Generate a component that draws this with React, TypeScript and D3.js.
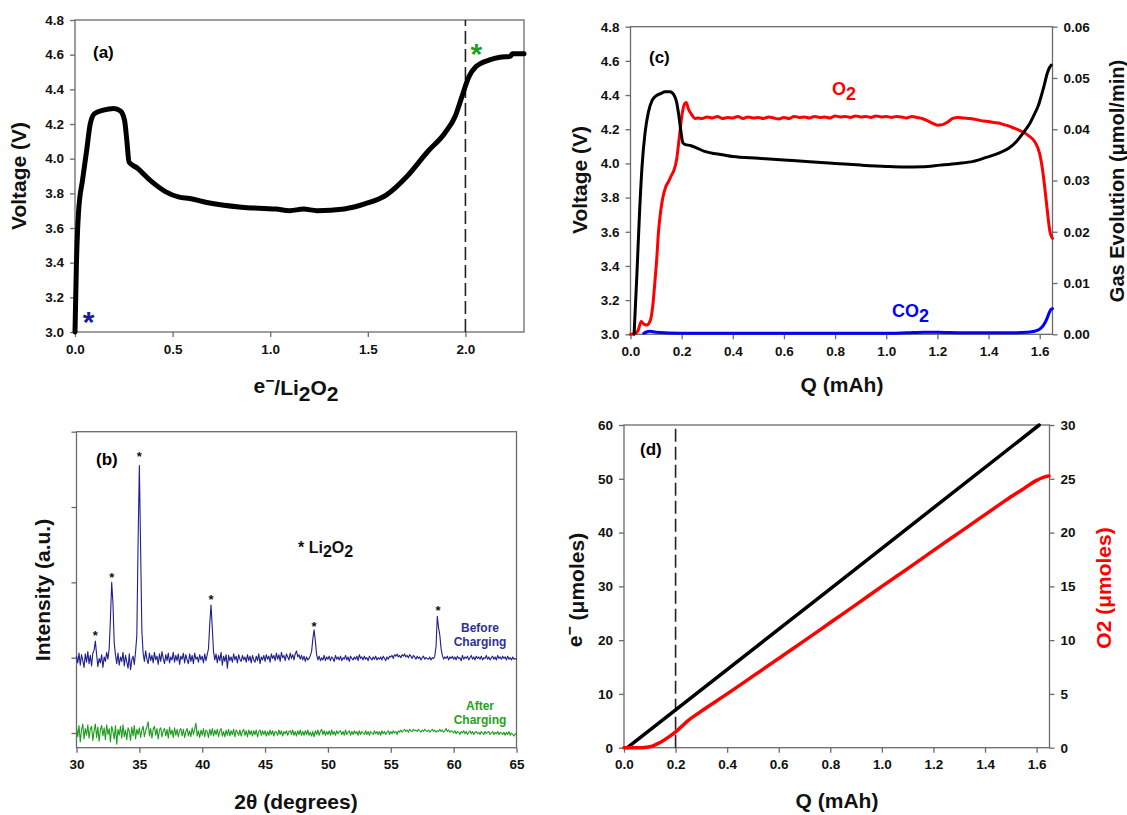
import { useRef, useEffect } from 'react'
import * as d3 from 'd3'

// (a) charging voltage vs e-/Li2O2
const aRatio = [0, 0.007, 0.018, 0.039, 0.06, 0.078, 0.1, 0.145, 0.198, 0.233, 0.254, 0.265, 0.277, 0.32, 0.39, 0.463, 0.534, 0.587, 0.675, 0.852, 1.03, 1.1, 1.17, 1.24, 1.38, 1.488, 1.594, 1.7, 1.806, 1.894, 1.947, 1.982, 2.018, 2.053, 2.124, 2.177, 2.23, 2.24, 2.3]
const aVolt = [3.0, 3.38, 3.69, 3.88, 4.05, 4.2, 4.26, 4.28, 4.29, 4.275, 4.22, 4.11, 3.98, 3.945, 3.87, 3.81, 3.778, 3.77, 3.747, 3.72, 3.709, 3.70, 3.709, 3.70, 3.71, 3.74, 3.79, 3.897, 4.04, 4.147, 4.243, 4.358, 4.473, 4.53, 4.57, 4.585, 4.59, 4.605, 4.605]
const aTicksX = [0, 0.5, 1.0, 1.5, 2.0]
const aTicksY = [3.0, 3.2, 3.4, 3.6, 3.8, 4.0, 4.2, 4.4, 4.6, 4.8]
const aDashAt = 2.0

// (b) XRD, 2theta from 30 to 65 in 0.1 steps
const xrdStart = 30
const xrdStep = 0.1
const before = [
  1.02, 0.93, 1.06, 0.90, 1.04, 0.96, 0.87, 1.05, 0.94, 1.08,
  0.92, 1.03, 0.89, 1.06, 1.10, 1.22, 1.04, 0.88, 0.99, 0.93,
  1.04, 0.87, 1.01, 0.95, 1.07, 0.98, 1.12, 1.52, 2.00, 1.72,
  1.20, 1.04, 0.92, 1.06, 0.90, 1.01, 0.95, 1.07, 0.89, 1.03,
  0.94, 0.86, 1.05, 0.84, 0.97, 1.02, 0.91, 1.08, 1.30, 2.55,
  3.55, 2.45, 1.35, 1.06, 0.95, 1.09, 0.98, 0.92, 1.06, 0.96,
  1.03, 0.93, 1.07, 0.97, 1.02, 0.91, 1.05, 0.95, 1.08, 0.99,
  0.92, 1.04, 0.96, 1.06, 0.93, 1.01, 0.97, 1.07, 0.94, 1.03,
  0.96, 1.05, 0.91, 1.02, 0.98, 1.06, 0.93, 1.04, 0.97, 0.92,
  1.05, 0.95, 1.03, 0.92, 1.06, 0.98, 1.01, 0.94, 1.04, 0.97,
  1.02, 0.93, 1.05, 0.96, 1.04, 1.12, 1.45, 1.70, 1.40, 1.08,
  0.97, 1.05, 0.93, 1.03, 0.96, 1.07, 0.90, 1.02, 0.95, 1.04,
  0.86, 1.03, 0.96, 1.01, 0.94, 1.05, 0.97, 1.02, 0.93, 1.04,
  0.98, 0.95, 1.03, 0.97, 1.01, 0.94, 1.04, 0.96, 1.02, 0.93,
  1.03, 0.97, 0.94, 1.02, 0.96, 1.05, 0.92, 1.01, 0.97, 1.03,
  0.95, 1.04, 0.98, 1.02, 0.94, 1.05, 0.99, 1.03, 0.96, 1.06,
  0.98, 1.04, 0.95, 1.07, 1.00, 1.03, 0.96, 1.05, 1.01, 0.97,
  1.06, 0.99, 1.04, 0.97, 1.05, 1.09, 1.01, 1.04, 0.98, 1.03,
  0.97, 1.02, 0.95, 1.01, 0.97, 0.99, 1.03, 1.08, 1.25, 1.37,
  1.22, 1.04, 0.97, 1.02, 0.96, 1.00, 0.97, 1.03, 0.96, 1.01,
  0.98, 1.02, 0.96, 1.01, 0.99, 0.95, 1.03, 0.98, 1.01, 0.97,
  1.02, 0.96, 1.00, 0.98, 1.03, 0.97, 1.01, 0.95, 1.02, 0.99,
  0.97, 1.01, 0.98, 1.02, 0.96, 1.04, 0.99, 1.01, 0.97, 1.02,
  0.98, 1.00, 0.96, 1.02, 0.99, 0.97, 1.01, 0.98, 1.02, 0.97,
  1.00, 0.98, 1.01, 0.97, 1.02, 0.99, 0.96, 1.01, 0.98, 1.02,
  1.01, 1.03, 0.99, 1.04, 1.02, 1.05, 1.01, 1.03, 1.00, 1.04,
  1.02, 1.05, 1.01, 1.03, 1.00, 1.04, 1.02, 0.99, 1.03, 1.01,
  0.98, 1.02, 0.99, 1.01, 0.97, 1.00, 1.02, 0.98, 1.00, 0.99,
  0.98, 1.01, 0.97, 1.00, 0.99, 1.02, 1.15, 1.55, 1.40, 1.30,
  1.12, 1.03, 0.98, 1.01, 0.99, 1.02, 0.97, 1.01, 0.99, 1.02,
  0.98, 1.01, 0.97, 1.02, 0.99, 1.00, 0.96, 1.03, 0.98, 1.01,
  0.99, 1.02, 0.97, 1.00, 1.03, 0.98, 1.01, 0.97, 1.02, 0.99,
  1.01, 0.98, 1.02, 0.97, 1.00, 0.99, 1.03, 0.98, 1.01, 0.97,
  1.00, 1.02, 0.98, 1.01, 0.97, 1.03, 0.99, 1.01, 0.98, 1.02,
  0.99, 1.01, 0.97, 1.02, 0.98, 1.00, 0.97, 1.01, 0.98, 0.99,
  0.98,
]
const after = [
  0.08, -0.05, 0.10, -0.12, 0.04, 0.12, -0.08, 0.06, -0.03, 0.11,
  -0.07, 0.05, 0.09, -0.10, 0.03, 0.12, -0.06, 0.08, -0.11, 0.04,
  0.10, -0.04, 0.07, -0.09, 0.11, -0.02, 0.06, -0.12, 0.09, 0.02,
  -0.08, 0.10, -0.15, 0.05, -0.03, 0.09, -0.07, 0.11, -0.05, 0.04,
  -0.09, 0.07, 0.02, -0.10, 0.08, -0.04, 0.10, -0.08, 0.05, -0.02,
  0.07, -0.06, 0.04, 0.09, -0.05, 0.03, 0.08, 0.15, -0.04, 0.06,
  -0.07, 0.05, 0.09, -0.03, 0.06, -0.08, 0.04, 0.07, -0.05, 0.03,
  0.06, -0.04, 0.05, -0.07, 0.08, -0.02, 0.04, -0.06, 0.07, -0.03,
  0.05, -0.05, 0.03, 0.06, -0.04, 0.05, -0.06, 0.02, 0.06, -0.04,
  0.03, -0.05, 0.07, -0.02, 0.05, 0.13, -0.04, 0.03, -0.06, 0.04,
  -0.03, 0.06, -0.05, 0.04, 0.02, -0.06, 0.05, -0.03, 0.06, -0.04,
  0.04, -0.02, 0.05, -0.05, 0.03, 0.06, -0.04, 0.02, -0.05, 0.04,
  -0.03, 0.05, -0.04, 0.03, -0.02, 0.05, -0.05, 0.04, 0.01, -0.03,
  0.04, -0.04, 0.02, 0.05, -0.03, 0.03, -0.05, 0.04, -0.02, 0.03,
  -0.04, 0.03, -0.02, 0.04, -0.05, 0.02, 0.04, -0.03, 0.03, -0.02,
  0.03, -0.04, 0.02, -0.03, 0.04, -0.02, 0.03, -0.04, 0.02, 0.01,
  -0.03, 0.04, -0.02, 0.03, -0.04, 0.02, -0.01, 0.03, -0.03, 0.02,
  0.03, -0.02, 0.04, -0.03, 0.02, -0.04, 0.03, -0.02, 0.04, -0.03,
  0.02, -0.03, 0.03, -0.02, 0.04, -0.03, 0.01, -0.04, 0.02, -0.05,
  0.03, -0.02, 0.04, -0.03, 0.02, 0.05, -0.02, 0.03, -0.03, 0.02,
  -0.02, 0.03, -0.03, 0.04, -0.02, 0.02, -0.03, 0.03, -0.01, 0.02,
  0.03, -0.02, 0.02, -0.03, 0.04, -0.02, 0.01, 0.03, -0.03, 0.02,
  -0.02, 0.03, -0.01, 0.02, -0.03, 0.03, -0.02, 0.02, 0.00, -0.02,
  0.03, -0.02, 0.02, -0.03, 0.02, 0.00, -0.02, 0.03, -0.01, 0.02,
  -0.02, 0.02, -0.03, 0.03, -0.01, 0.02, -0.02, 0.01, 0.03, -0.02,
  0.02, -0.01, 0.03, 0.00, 0.02, -0.02, 0.03, 0.01, 0.04, 0.01,
  0.03, 0.05, 0.02, 0.04, 0.01, 0.05, 0.03, 0.02, 0.05, 0.03,
  0.04, 0.02, 0.05, 0.03, 0.01, 0.04, 0.02, 0.05, 0.03, 0.02,
  0.04, 0.01, 0.03, 0.05, 0.02, 0.04, 0.01, 0.03, 0.02, 0.05,
  0.02, 0.04, 0.01, 0.03, 0.06, 0.02, 0.04, 0.01, 0.03, 0.02,
  0.00, 0.03, -0.01, 0.02, 0.01, -0.02, 0.02, 0.00, 0.03, -0.01,
  0.02, -0.02, 0.01, 0.03, -0.01, 0.02, -0.02, 0.01, 0.02, -0.01,
  0.01, -0.02, 0.02, 0.00, -0.02, 0.02, -0.01, 0.01, 0.02, -0.02,
  0.00, 0.02, -0.02, 0.01, -0.01, 0.02, -0.02, 0.01, 0.00, -0.02,
  0.01, -0.03, 0.01, -0.02, 0.02, -0.03, 0.00, -0.02, -0.04, -0.01,
  -0.02,
]
const peakStarX = [31.5, 32.8, 35.0, 40.7, 48.9, 58.75]
const peakStarY = [1.33, 2.1, 3.7, 1.8, 1.45, 1.66]
const bTicksX = [30, 35, 40, 45, 50, 55, 60, 65]
const bTicksY = [0, 1, 2, 3, 4]

// (c) voltage and gas evolution vs Q
const cVQ = [0.014, 0.025, 0.035, 0.045, 0.057, 0.07, 0.085, 0.1, 0.12, 0.135, 0.155, 0.17, 0.18, 0.188, 0.196, 0.205, 0.215, 0.234, 0.26, 0.29, 0.34, 0.40, 0.5, 0.6, 0.7, 0.8, 0.9, 1.0, 1.07, 1.14, 1.21, 1.28, 1.34, 1.39, 1.44, 1.48, 1.51, 1.536, 1.56, 1.58, 1.595, 1.607, 1.618, 1.628, 1.638, 1.645]
const cVolt = [3.0, 3.35, 3.7, 3.98, 4.18, 4.3, 4.37, 4.395, 4.41, 4.42, 4.42, 4.40, 4.36, 4.29, 4.2, 4.12, 4.11, 4.105, 4.09, 4.07, 4.055, 4.04, 4.03, 4.02, 4.01, 4.0, 3.99, 3.982, 3.979, 3.981, 3.99, 4.0, 4.012, 4.035, 4.06, 4.09, 4.13, 4.18, 4.23, 4.29, 4.34, 4.4, 4.46, 4.52, 4.56, 4.575]
const o2Q = [0, 0.02, 0.03, 0.042, 0.052, 0.064, 0.078, 0.088, 0.095, 0.103, 0.109, 0.118, 0.127, 0.138, 0.149, 0.16, 0.17, 0.18, 0.191, 0.202, 0.212, 0.218, 0.226, 0.24, 0.252, 0.262,
  0.28, 0.30, 0.32, 0.34, 0.36, 0.38, 0.40, 0.42, 0.44, 0.46, 0.48, 0.50, 0.52, 0.54, 0.56, 0.58, 0.60, 0.62, 0.64, 0.66, 0.68, 0.70, 0.72, 0.74, 0.76, 0.78, 0.80,
  0.82, 0.84, 0.86, 0.88, 0.90, 0.92, 0.94, 0.96, 0.98, 1.00, 1.02, 1.04, 1.06, 1.08, 1.10, 1.12, 1.14, 1.16, 1.18, 1.20, 1.22, 1.24, 1.26, 1.28, 1.30, 1.32,
  1.34, 1.36, 1.38, 1.40, 1.42, 1.44, 1.46, 1.48, 1.50, 1.52, 1.54, 1.56, 1.58, 1.60, 1.61, 1.62, 1.63, 1.64, 1.65]
const o2Rate = [0, 0.0002, 0.0008, 0.0025, 0.0020, 0.0018, 0.0028, 0.006, 0.010, 0.015, 0.0197, 0.024, 0.0268, 0.0288, 0.0298, 0.031, 0.032, 0.034, 0.0385, 0.043, 0.045, 0.0452, 0.044, 0.0428, 0.0421, 0.0422,
  0.0421, 0.0424, 0.0422, 0.0425, 0.0421, 0.0423, 0.0422, 0.0425, 0.0421, 0.0424, 0.0422, 0.0423, 0.0421, 0.0424, 0.0422, 0.0420, 0.0423, 0.0421, 0.0425, 0.0423, 0.0424, 0.0422, 0.0425, 0.0423, 0.0424, 0.0422, 0.0426,
  0.0424, 0.0425, 0.0423, 0.0426, 0.0424, 0.0425, 0.0423, 0.0426, 0.0424, 0.0425, 0.0423, 0.0425, 0.0424, 0.0422, 0.0425, 0.0423, 0.0421, 0.0417, 0.0412, 0.0408, 0.0409, 0.0414, 0.0421, 0.0423, 0.0422, 0.0421,
  0.0420, 0.0418, 0.0416, 0.0415, 0.0413, 0.0412, 0.0409, 0.0406, 0.0402, 0.0398, 0.0393, 0.0386, 0.0376, 0.0352, 0.0325, 0.0285, 0.0240, 0.0200, 0.0187]
const co2Q = [0.052, 0.06, 0.075, 0.1, 0.2, 0.4, 0.6, 0.8, 1.0, 1.08, 1.15, 1.2, 1.3, 1.4, 1.5, 1.55, 1.58, 1.6, 1.615, 1.628, 1.638, 1.645, 1.65]
const co2Rate = [0.0002, 0.0004, 0.0006, 0.0004, 0.0002, 0.0002, 0.0002, 0.0002, 0.0002, 0.0003, 0.0004, 0.0004, 0.0003, 0.0003, 0.0003, 0.0004, 0.0006, 0.001, 0.0018, 0.003, 0.0043, 0.0049, 0.0050]
const cTicksX = [0, 0.2, 0.4, 0.6, 0.8, 1.0, 1.2, 1.4, 1.6]
const cTicksY = [3.0, 3.2, 3.4, 3.6, 3.8, 4.0, 4.2, 4.4, 4.6, 4.8]
const cTicksY2 = [0, 0.01, 0.02, 0.03, 0.04, 0.05, 0.06]

// (d) cumulative e- and O2
const eQ = [0.013, 0.8, 1.61]
const eMol = [0, 29.55, 60]
const o2TotQ = [0, 0.05, 0.089, 0.11, 0.131, 0.15, 0.174, 0.199, 0.22, 0.245, 0.3, 0.4, 0.5, 0.6, 0.7, 0.81, 0.9, 1.0, 1.1, 1.195, 1.3, 1.39, 1.45, 1.505, 1.545, 1.575, 1.6, 1.617, 1.635, 1.648]
const o2Tot = [0, 0, 0.05, 0.15, 0.38, 0.62, 1.0, 1.45, 1.9, 2.45, 3.4, 5.0, 6.65, 8.3, 9.95, 11.8, 13.3, 15.0, 16.65, 18.25, 20.0, 21.5, 22.5, 23.4, 24.0, 24.5, 24.85, 25.05, 25.2, 25.26]
const dTicksY = [0, 10, 20, 30, 40, 50, 60]
const dTicksY2 = [0, 5, 10, 15, 20, 25, 30]
const dDashAt = 0.2

const FONT = '"Liberation Sans", Arial, Helvetica, sans-serif'
const AXIS = '#6a6a6a'
const NAVY = '#1f1f8e'
const GREEN = '#1c9c1c'

type Part = [string, string?]

function rich(g, x, y, parts: Part[], size, color, rotate = false, anchor = 'middle') {
  const t = g.append('text')
    .attr('font-family', FONT).attr('font-weight', 'bold')
    .attr('font-size', size).attr('fill', color)
    .attr('text-anchor', anchor)
  if (rotate) t.attr('transform', `translate(${x},${y}) rotate(-90)`)
  else t.attr('x', x).attr('y', y)
  let shift = 0
  parts.forEach(([s, kind]) => {
    const sp = t.append('tspan').text(s)
    const want = kind === 'sub' ? 0.28 : kind === 'sup' ? -0.45 : 0
    if (want !== shift) sp.attr('dy', `${want - shift}em`)
    if (kind === 'sup') sp.attr('font-size', size * 0.75)
    shift = want
  })
  return t
}

function axes(g, x, y, xTicks, yTicks, xFmt, yFmt) {
  const [x0, x1] = x.range()
  const [y0, y1] = y.range()
  g.append('rect')
    .attr('x', x0).attr('y', y1).attr('width', x1 - x0).attr('height', y0 - y1)
    .attr('fill', 'none').attr('stroke', AXIS).attr('stroke-width', 1.3)
  const ax = g.append('g').attr('transform', `translate(0,${y0})`)
    .call(d3.axisBottom(x).tickValues(xTicks).tickFormat(xFmt).tickSize(5).tickSizeOuter(0).tickPadding(7))
  const ay = g.append('g').attr('transform', `translate(${x0},0)`)
    .call(d3.axisLeft(y).tickValues(yTicks).tickFormat(yFmt).tickSize(5).tickSizeOuter(0).tickPadding(6))
  styleAxis(ax)
  styleAxis(ay)
}

function rightAxis(g, x, y, ticks, fmt) {
  const a = g.append('g').attr('transform', `translate(${x.range()[1]},0)`)
    .call(d3.axisRight(y).tickValues(ticks).tickFormat(fmt).tickSize(5).tickSizeOuter(0).tickPadding(6))
  styleAxis(a)
}

function styleAxis(a) {
  a.select('.domain').remove()
  a.selectAll('line').attr('stroke', AXIS).attr('stroke-width', 1.3)
  a.selectAll('text').attr('font-family', FONT).attr('font-weight', 'bold')
    .attr('font-size', 13.5).attr('fill', '#111')
}

function path(g, xs, ys, x, y, color, width, curve = d3.curveMonotoneX) {
  const line = d3.line<number>().x((_, i) => x(xs[i])).y((d) => y(d)).curve(curve)
  g.append('path').attr('d', line(ys)).attr('fill', 'none')
    .attr('stroke', color).attr('stroke-width', width)
    .attr('stroke-linejoin', 'round').attr('stroke-linecap', 'round')
}

function dashed(g, x, y, at) {
  const [y0, y1] = y.range()
  g.append('line').attr('x1', x(at)).attr('x2', x(at)).attr('y1', y0).attr('y2', y1)
    .attr('stroke', '#222').attr('stroke-width', 1.6).attr('stroke-dasharray', '13,5')
}

const App = () => {
  const ref = useRef(null)

  useEffect(() => {
    const svg = d3.select(ref.current)
    svg.selectAll('*').remove()
    const f1 = d3.format('.1f')
    const f0 = d3.format('d')

    // ---- (a)
    const ga = svg.append('g')
    const xa = d3.scaleLinear().domain([0, 2.3]).range([75, 524])
    const ya = d3.scaleLinear().domain([3.0, 4.8]).range([332, 20])
    axes(ga, xa, ya, aTicksX, aTicksY, f1, f1)
    dashed(ga, xa, ya, aDashAt)
    path(ga, aRatio, aVolt, xa, ya, '#000', 5)
    rich(ga, 93, 58, [['(a)']], 17, '#000', false, 'start')
    ga.append('text').attr('x', xa(0.069)).attr('y', ya(3.098) + 17).attr('text-anchor', 'middle')
      .attr('font-family', FONT).attr('font-weight', 'bold').attr('font-size', 30).attr('fill', '#1a1aa0').text('*')
    ga.append('text').attr('x', xa(2.056)).attr('y', ya(4.644) + 17).attr('text-anchor', 'middle')
      .attr('font-family', FONT).attr('font-weight', 'bold').attr('font-size', 30).attr('fill', '#1ea01e').text('*')
    rich(ga, 26, 176, [['Voltage (V)']], 21, '#111', true)
    rich(ga, 296, 393, [['e'], ['\u2212', 'sup'], ['/Li'], ['2', 'sub'], ['O'], ['2', 'sub']], 21, '#111')

    // ---- (b)
    const gb = svg.append('g')
    const xb = d3.scaleLinear().domain([30, 65]).range([76.5, 516.5])
    const yb = d3.scaleLinear().domain([-0.195, 4]).range([747.7, 431.7])
    axes(gb, xb, yb, bTicksX, bTicksY, f0, () => '')
    const twoTheta = before.map((_, i) => xrdStart + i * xrdStep)
    path(gb, twoTheta, after, xb, yb, GREEN, 1.1, d3.curveLinear)
    path(gb, twoTheta, before, xb, yb, NAVY, 1.1, d3.curveLinear)
    peakStarX.forEach((px, i) => {
      gb.append('text').attr('x', xb(px)).attr('y', yb(peakStarY[i]) + 7).attr('text-anchor', 'middle')
        .attr('font-family', FONT).attr('font-weight', 'bold').attr('font-size', 13).attr('fill', '#111').text('*')
    })
    rich(gb, 96, 465, [['(b)']], 17, '#000', false, 'start')
    rich(gb, 298, 553, [['* Li'], ['2', 'sub'], ['O'], ['2', 'sub']], 16, '#111', false, 'start')
    rich(gb, 480, 632, [['Before']], 12, '#2e3192')
    rich(gb, 480, 646, [['Charging']], 12, '#2e3192')
    rich(gb, 480, 710, [['After']], 12, '#22a322')
    rich(gb, 480, 724, [['Charging']], 12, '#22a322')
    rich(gb, 50, 590, [['Intensity (a.u.)']], 21, '#111', true)
    rich(gb, 296, 809, [['2\u03b8 (degrees)']], 21, '#111')

    // ---- (c)
    const gc = svg.append('g')
    const xc = d3.scaleLinear().domain([0, 1.65]).range([630.5, 1052.5])
    const yc = d3.scaleLinear().domain([3.0, 4.8]).range([334.3, 26.7])
    const yc2 = d3.scaleLinear().domain([0, 0.06]).range([334.3, 26.7])
    axes(gc, xc, yc, cTicksX, cTicksY, f1, f1)
    rightAxis(gc, xc, yc2, cTicksY2, d3.format('.2f'))
    path(gc, co2Q, co2Rate, xc, yc2, '#0000ff', 3)
    path(gc, o2Q, o2Rate, xc, yc2, '#ff0000', 3)
    path(gc, cVQ, cVolt, xc, yc, '#000', 3)
    rich(gc, 649, 63, [['(c)']], 17, '#000', false, 'start')
    rich(gc, 832, 95, [['O'], ['2', 'sub']], 18, '#ff0000', false, 'start')
    rich(gc, 892, 317, [['CO'], ['2', 'sub']], 18, '#0000ff', false, 'start')
    rich(gc, 587, 180, [['Voltage (V)']], 21, '#111', true)
    rich(gc, 1124, 181, [['Gas Evolution (\u03bcmol/min)']], 20, '#111', true)
    rich(gc, 842, 392, [['Q (mAh)']], 21, '#111')

    // ---- (d)
    const gd = svg.append('g')
    const xd = d3.scaleLinear().domain([0, 1.65]).range([624, 1049.5])
    const yd = d3.scaleLinear().domain([0, 60]).range([747.7, 425])
    const yd2 = d3.scaleLinear().domain([0, 30]).range([747.7, 425])
    axes(gd, xd, yd, cTicksX, dTicksY, f1, f0)
    rightAxis(gd, xd, yd2, dTicksY2, f0)
    dashed(gd, xd, yd, dDashAt)
    path(gd, eQ, eMol, xd, yd, '#000', 3.5, d3.curveLinear)
    path(gd, o2TotQ, o2Tot, xd, yd2, '#ff0000', 3.5)
    rich(gd, 640, 455, [['(d)']], 17, '#000', false, 'start')
    rich(gd, 582, 590, [['e'], ['\u2212', 'sup'], [' (\u03bcmoles)']], 21, '#111', true)
    rich(gd, 1111, 588, [['O2 (\u03bcmoles)']], 21, '#ff0000', true)
    rich(gd, 837, 808, [['Q (mAh)']], 21, '#111')
  }, [])

  return (
    <svg
      ref={ref}
      width={1127}
      height={815}
      style={{ position: 'absolute', left: 0, top: 0, background: '#fff' }}
    />
  )
}

export default App
